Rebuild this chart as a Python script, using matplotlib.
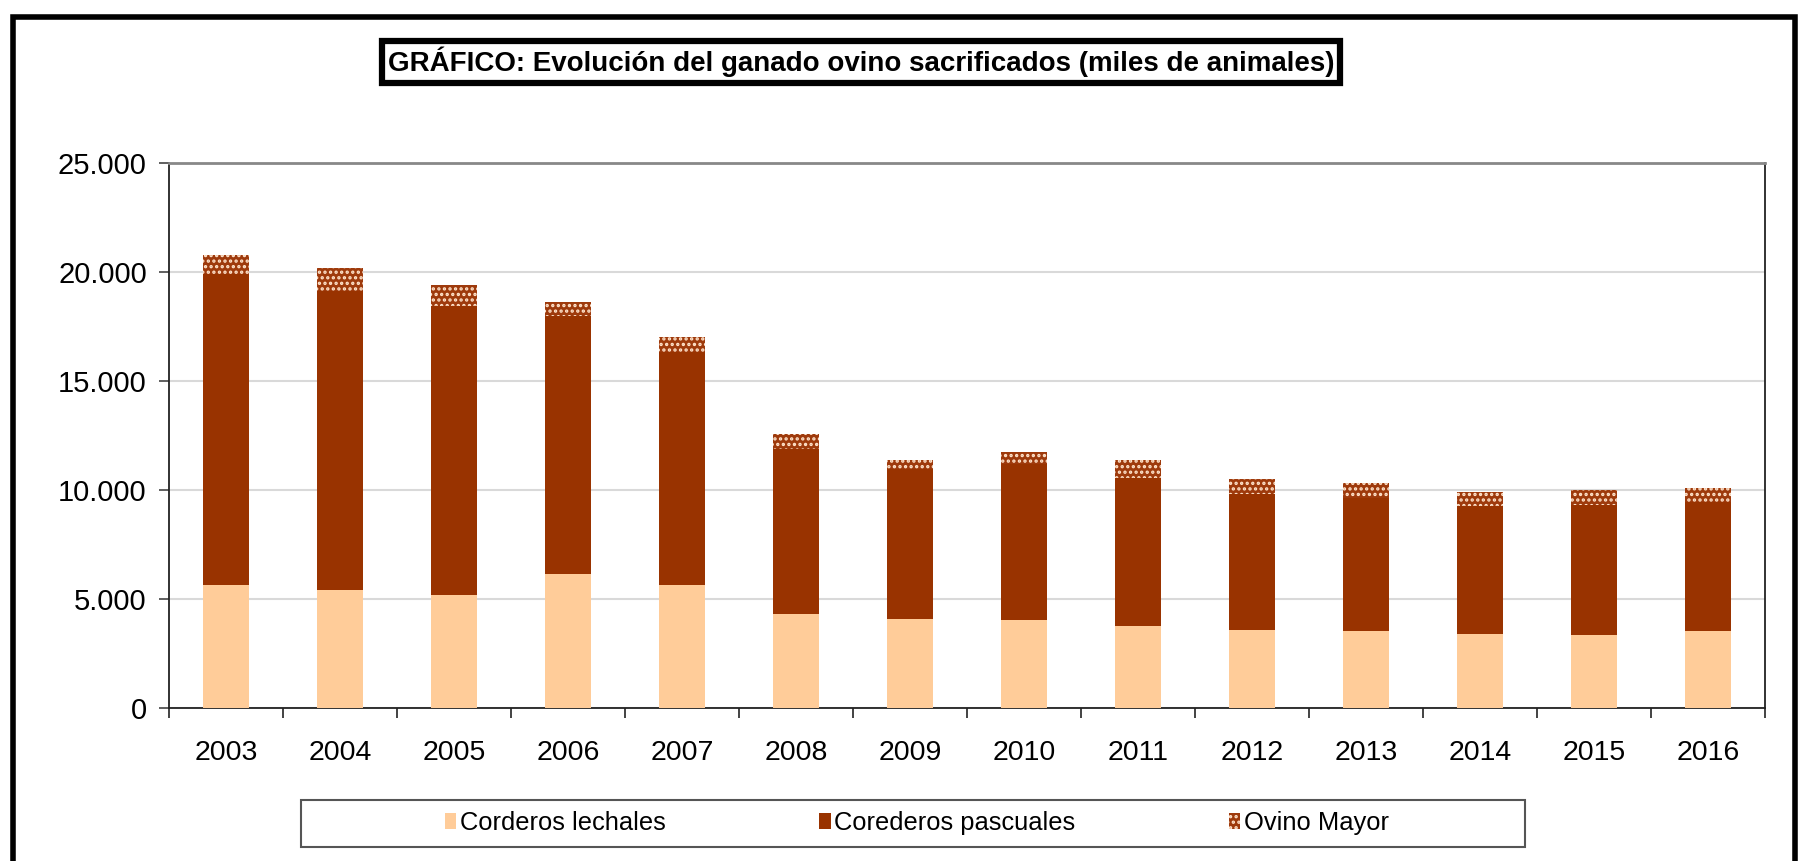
import matplotlib
matplotlib.use("Agg")
import matplotlib.pyplot as plt
import numpy as np
from matplotlib.patches import Rectangle, Patch
from matplotlib.lines import Line2D
from matplotlib.ticker import FuncFormatter, FixedLocator

plt.rcParams['font.family'] = ['Liberation Sans', 'DejaVu Sans']
plt.rcParams['hatch.linewidth'] = 1.6

years = ['2003', '2004', '2005', '2006', '2007', '2008', '2009', '2010',
         '2011', '2012', '2013', '2014', '2015', '2016']
lechales = [5640, 5410, 5170, 6140, 5640, 4300, 4080, 4040, 3760, 3560, 3520, 3400, 3350, 3530]
pascuales = [14290, 13740, 13290, 11860, 10710, 7600, 6870, 7170, 6790, 6270, 6130, 5860, 5980, 5940]
ovino_mayor = [840, 1050, 930, 620, 690, 660, 440, 520, 840, 670, 660, 670, 660, 640]
series_names = ['Corderos lechales', 'Corederos pascuales', 'Ovino Mayor']
title = 'GRÁFICO: Evolución del ganado ovino sacrificados (miles de animales)'

W, H = 1800, 861
fig = plt.figure(figsize=(W / 100, H / 100), dpi=100)
fig.patch.set_facecolor('white')

ax_l, ax_r, ax_t, ax_b = 169, 1765, 163, 708
ax = fig.add_axes([ax_l / W, 1 - ax_b / H, (ax_r - ax_l) / W, (ax_b - ax_t) / H])

x = np.arange(len(years))
c_lech = '#FFCC99'
c_pasc = '#993300'
c_ovi = '#9E3A0C'
c_dot = '#FFE4CC'
ax.bar(x, lechales, width=0.4, color=c_lech, linewidth=0, zorder=3)
bottom2 = np.array(lechales)
ax.bar(x, pascuales, width=0.4, bottom=bottom2, color=c_pasc, linewidth=0, zorder=3)
bottom3 = bottom2 + np.array(pascuales)
ax.bar(x, ovino_mayor, width=0.4, bottom=bottom3, facecolor=c_ovi,
       edgecolor=c_dot, hatch='...', linewidth=0, zorder=3)

ax.set_xlim(-0.5, len(years) - 0.5)
ax.set_ylim(0, 25000)
ax.set_yticks(np.arange(0, 25001, 5000))
ax.yaxis.set_major_formatter(FuncFormatter(lambda v, p: f"{int(v):,}".replace(',', '.')))
ax.grid(axis='y', color='#D9D9D9', linewidth=1.5, zorder=0)
ax.set_axisbelow(True)

ax.set_xticks(x)
ax.set_xticklabels(years)
ax.xaxis.set_minor_locator(FixedLocator(np.arange(-0.5, len(years), 1.0)))
ax.tick_params(axis='x', which='major', length=0, labelsize=20.5, pad=23)
ax.tick_params(axis='x', which='minor', length=7, width=1.2, color='#222222')
ax.tick_params(axis='y', which='major', length=7, width=1.2, color='#444444', labelsize=21, pad=9)

for side in ['left', 'bottom', 'right']:
    ax.spines[side].set_color('#222222')
    ax.spines[side].set_linewidth(1.3)
ax.spines['top'].set_color('#888888')
ax.spines['top'].set_linewidth(2)

# Outer frame (extends beyond bottom edge)
fig.add_artist(Line2D([13 / W, 13 / W, 1795 / W, 1795 / W],
                      [-0.1, 1 - 17 / H, 1 - 17 / H, -0.1],
                      transform=fig.transFigure, color='black', linewidth=4,
                      solid_joinstyle='miter'))

# Title in box
fig.text(861 / W, 1 - 62 / H, title, ha='center', va='center', fontsize=20,
         fontweight='bold',
         bbox=dict(boxstyle='square,pad=0.22', facecolor='white', edgecolor='black', linewidth=4.5))

# Legend box
fig.add_artist(Rectangle((301 / W, 1 - 847 / H), (1525 - 301) / W, (847 - 800) / H,
                         transform=fig.transFigure, facecolor='white', edgecolor='#555555',
                         linewidth=1.5))
handles = [Patch(facecolor=c_lech, linewidth=0),
           Patch(facecolor=c_pasc, linewidth=0),
           Patch(facecolor=c_ovi, edgecolor=c_dot, hatch='...', linewidth=0)]
fig.legend(handles, series_names, loc='center', bbox_to_anchor=(917 / W, 1 - 823 / H),
           ncol=3, frameon=False, fontsize=18.4, handlelength=0.45, handleheight=0.55,
           handletextpad=0.15, columnspacing=6.0)

fig.savefig('out.png', dpi=100)
